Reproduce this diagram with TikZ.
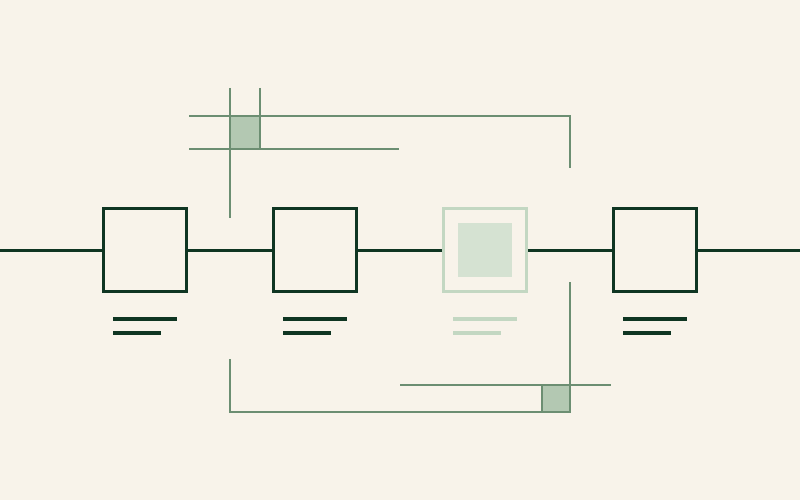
\documentclass[tikz,border=0pt]{standalone}
\usepackage{tikz}
\usetikzlibrary{positioning}
\definecolor{paper}{HTML}{F8F3EA}
\definecolor{pine}{HTML}{0F3522}
\definecolor{sage}{HTML}{6C8E72}
\definecolor{sagefill}{HTML}{B3C8B2}
\definecolor{mist}{HTML}{C3D7C2}
\definecolor{mistfill}{HTML}{D5E2D2}
\tikzset{x=1pt,y=-1pt,
    node distance=170pt,
    stage/.style={rectangle,draw=pine,line width=3pt,minimum size=83pt,inner sep=0pt},
    ghost/.style={rectangle,draw=mist,line width=3pt,minimum size=83pt,inner sep=0pt},
    ghostcore/.style={rectangle,fill=mistfill,minimum size=54pt,inner sep=0pt},
    wire/.style={draw=pine,line width=3pt},
    bar/.style={pine,line width=3.5pt},
    ghostbar/.style={mist,line width=3.5pt},
    guide/.style={sage,line width=1.5pt},
    tab/.style={draw=sage,line width=1.5pt,fill=sagefill}}

\begin{document}
\begin{tikzpicture}
\fill[paper] (0,0) rectangle (800,500);
\useasboundingbox (0,0) rectangle (800,500);
% stages on the line
\node[stage]  (s1) at (145,250) {};
\node[stage]  (s2) [right of=s1] {};
\node[ghost]  (s3) [right of=s2] {};
\node[ghostcore] (c3) at (s3) {};
\node[stage]  (s4) [right of=s3] {};
\coordinate (w) at (0,250);
\coordinate (e) at (800,250);
\path[wire]
	(w)	edge 	[] 	node [] {} (s1)
	(s1)	edge 	[] 	node [] {} (s2)
	(s2)	edge 	[] 	node [] {} (s3)
	(s3)	edge 	[] 	node [] {} (s4)
	(s4)	edge 	[] 	node [] {} (e);
% captions
\foreach \n/\st in {s1/bar,s2/bar,s3/ghostbar,s4/bar}{
  \draw[\st] (\n.south) ++(-32,26) -- ++(64,0);
  \draw[\st] (\n.south) ++(-32,40) -- ++(48,0);
}
% upper guides
\draw[tab] (230,116) rectangle (260,149);
\draw[guide] (230,88) -- (230,218);
\draw[guide] (260,88) -- (260,149);
\draw[guide] (189,116) -- (570,116) -- (570,168);
\draw[guide] (189,149) -- (399,149);
% lower guides
\draw[tab] (542,385) rectangle (570,412);
\draw[guide] (570,282) -- (570,412) -- (230,412) -- (230,359);
\draw[guide] (400,385) -- (611,385);
\end{tikzpicture}
\end{document}
